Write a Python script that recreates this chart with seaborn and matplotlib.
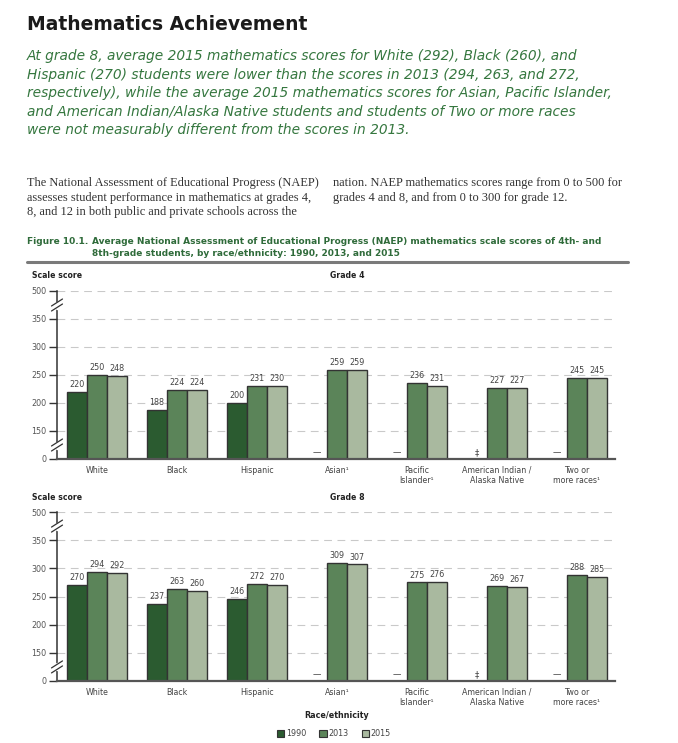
import numpy as np
import pandas as pd
import matplotlib
matplotlib.use("Agg")
import matplotlib.pyplot as plt
import seaborn as sns
from matplotlib.lines import Line2D
from matplotlib.patches import Patch

# ---------------- data ----------------
races = ["White", "Black", "Hispanic", "Asian\u00b9", "Pacific\nIslander\u00b9",
         "American Indian /\nAlaska Native", "Two or\nmore races\u00b9"]
years = ["1990", "2013", "2015"]
g4_1990 = [220, 188, 200, np.nan, np.nan, np.nan, np.nan]
g4_2013 = [250, 224, 231, 259, 236, 227, 245]
g4_2015 = [248, 224, 230, 259, 231, 227, 245]
g8_1990 = [270, 237, 246, np.nan, np.nan, np.nan, np.nan]
g8_2013 = [294, 263, 272, 309, 275, 269, 288]
g8_2015 = [292, 260, 270, 307, 276, 267, 285]
missing_1990 = ["", "", "", "\u2014", "\u2014", "\u2021", "\u2014"]
yticks = [0, 150, 200, 250, 300, 350, 500]
colors = ["#2b5b30", "#5b8459", "#a9b99f"]

W, H = 678, 743
sns.set_theme(style="white")
plt.rcParams["font.family"] = ["DejaVu Sans"]

fig = plt.figure(figsize=(W / 100, H / 100), dpi=100)
fig.patch.set_facecolor("white")


def fx(x):
    return x / W


def fy(y):
    return 1 - y / H


# broken-axis scale: 0-150 compressed, 150-350 linear, 350-500 compressed
def fwd(v):
    v = np.asarray(v, dtype=float)
    return np.where(v <= 150, v / 150.0,
                    np.where(v <= 350, 1 + (v - 150) / 50.0, 5 + (v - 350) / 150.0))


def inv(u):
    u = np.asarray(u, dtype=float)
    return np.where(u <= 1, u * 150.0,
                    np.where(u <= 5, 150 + (u - 1) * 50.0, 350 + (u - 5) * 150.0))


def make_df(v1990, v2013, v2015):
    rows = []
    for yr, vals in zip(years, [v1990, v2013, v2015]):
        for r, v in zip(races, vals):
            rows.append({"race": r, "year": yr, "score": v})
    return pd.DataFrame(rows)


def draw_panel(ax_rect, df, grade_label, label_y):
    ax = fig.add_axes(ax_rect)
    sns.barplot(data=df, x="race", y="score", hue="year", order=races,
                hue_order=years, palette=colors, width=0.75, edgecolor="#333333",
                linewidth=1.0, saturation=1, legend=False, errorbar=None, ax=ax)
    ax.set_yscale("function", functions=(fwd, inv))
    ax.set_ylim(0, 500)
    ax.set_xlim(-0.5, 6.475)
    ax.set_yticks(yticks)
    ax.set_yticklabels([str(t) for t in yticks])
    ax.yaxis.set_minor_locator(matplotlib.ticker.NullLocator())
    ax.set_xlabel("")
    ax.set_ylabel("")
    ax.set_axisbelow(True)
    ax.grid(axis="y", color="#c9c9c9", linestyle=(0, (7, 5)), linewidth=0.8)
    ax.grid(axis="x", visible=False)
    for s in ["top", "right"]:
        ax.spines[s].set_visible(False)
    ax.spines["left"].set_color("#333333")
    ax.spines["left"].set_linewidth(1.1)
    ax.spines["bottom"].set_color("#555555")
    ax.spines["bottom"].set_linewidth(1.6)
    ax.tick_params(axis="y", length=6, width=1, color="#333333", labelsize=5.8,
                   labelcolor="#555555", pad=1.5, left=True)
    ax.tick_params(axis="x", length=0, labelsize=5.7, labelcolor="#444444", pad=5)
    for c in ax.containers:
        ax.bar_label(c, fmt="%d", padding=2, fontsize=5.8, color="#444444")
    for i, m in enumerate(missing_1990):
        if m:
            ax.text(i - 0.25, 35, m, ha="center", va="center", fontsize=6,
                    color="#444444")
    # axis break marks
    fig.canvas.draw()
    sx = ax.transAxes.transform((0, 0))[0]
    for lo, hi in [(350, 500), (0, 150)]:
        cy = 0.5 * (ax.transData.transform((0, lo))[1] + ax.transData.transform((0, hi))[1])
        seg = Line2D([sx, sx], [cy - 2.5, cy + 2.5], transform=None, color="white",
                     lw=2.5, zorder=10)
        fig.add_artist(seg)
        for d in (-2.5, 2.5):
            ln = Line2D([sx - 5.5, sx + 5.5], [cy - 3.5 + d, cy + 3.5 + d],
                        transform=None, color="#333333", lw=0.9, zorder=11)
            fig.add_artist(ln)
    fig.text(fx(32), fy(label_y), "Scale score", fontsize=5.6, fontweight="bold",
             color="#222222", va="center", ha="left")
    fig.text(fx(330), fy(label_y), grade_label, fontsize=5.6, fontweight="bold",
             color="#222222", va="center", ha="left")
    return ax


# ---------------- header text ----------------
fig.text(fx(27), fy(24), "Mathematics Achievement", fontsize=13.5, fontweight="bold",
         color="#1a1a1a", va="center", ha="left")
sub_lines = [
    "At grade 8, average 2015 mathematics scores for White (292), Black (260), and",
    "Hispanic (270) students were lower than the scores in 2013 (294, 263, and 272,",
    "respectively), while the average 2015 mathematics scores for Asian, Pacific Islander,",
    "and American Indian/Alaska Native students and students of Two or more races",
    "were not measurably different from the scores in 2013.",
]
for k, line in enumerate(sub_lines):
    fig.text(fx(27), fy(56 + 18.6 * k), line, fontsize=9.9, style="italic",
             color="#35773f", va="center", ha="left")

body_left = [
    "The National Assessment of Educational Progress (NAEP)",
    "assesses student performance in mathematics at grades 4,",
    "8, and 12 in both public and private schools across the",
]
body_right = [
    "nation. NAEP mathematics scores range from 0 to 500 for",
    "grades 4 and 8, and from 0 to 300 for grade 12.",
]
for k, line in enumerate(body_left):
    fig.text(fx(27), fy(183 + 14.7 * k), line, fontsize=8.9, family="Liberation Serif",
             color="#333333", va="center", ha="left")
for k, line in enumerate(body_right):
    fig.text(fx(333), fy(183 + 14.7 * k), line, fontsize=8.9, family="Liberation Serif",
             color="#333333", va="center", ha="left")

fig.text(fx(27), fy(241), "Figure 10.1.", fontsize=6.45, fontweight="bold",
         color="#2f6b3a", va="center", ha="left")
fig.text(fx(92), fy(241),
         "Average National Assessment of Educational Progress (NAEP) mathematics scale scores of 4th- and",
         fontsize=6.45, fontweight="bold", color="#2f6b3a", va="center", ha="left")
fig.text(fx(92), fy(253), "8th-grade students, by race/ethnicity: 1990, 2013, and 2015",
         fontsize=6.45, fontweight="bold", color="#2f6b3a", va="center", ha="left")
fig.add_artist(Line2D([fx(27), fx(628)], [fy(262), fy(262)], color="#7a7a7a", lw=2.2))

# ---------------- panels ----------------
df4 = make_df(g4_1990, g4_2013, g4_2015)
df8 = make_df(g8_1990, g8_2013, g8_2015)
draw_panel([fx(57), fy(459), fx(615) - fx(57), (459 - 291) / H], df4, "Grade 4", 275)
draw_panel([fx(57), fy(681), fx(615) - fx(57), (681 - 512) / H], df8, "Grade 8", 497)

# ---------------- legend ----------------
fig.text(fx(337), fy(716), "Race/ethnicity", fontsize=5.8, fontweight="bold",
         color="#222222", va="center", ha="center")
handles = [Patch(facecolor=c, edgecolor="#333333", linewidth=0.8) for c in colors]
fig.legend(handles, years, loc="center", bbox_to_anchor=(fx(334), fy(734)), ncol=3,
           frameon=False, fontsize=5.8, handlelength=0.9, handleheight=0.9,
           handletextpad=0.25, columnspacing=1.6, labelcolor="#444444")

fig.savefig("out.png", dpi=100, facecolor="white")
